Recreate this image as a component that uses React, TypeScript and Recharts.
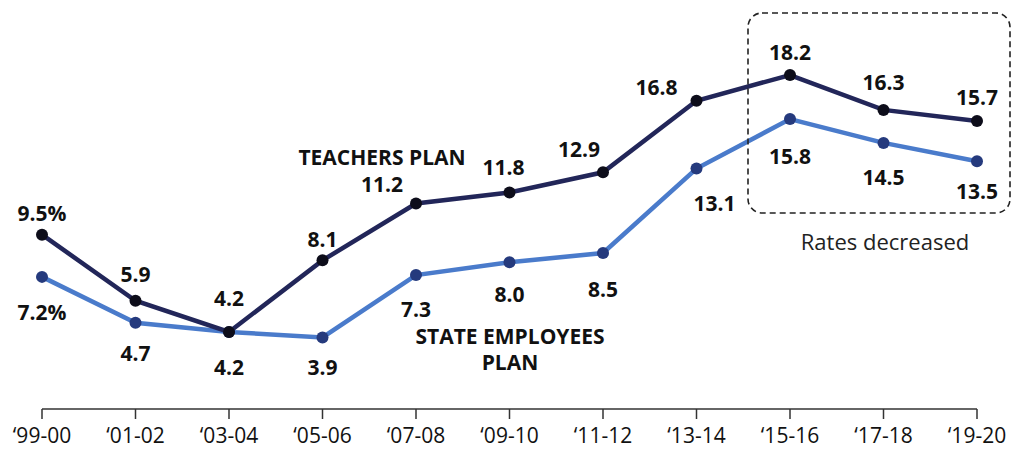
import React from "react";
import { LineChart, Line, XAxis, YAxis, LabelList } from "recharts";

const years = ["‘99-00", "‘01-02", "‘03-04", "‘05-06", "‘07-08", "‘09-10", "‘11-12", "‘13-14", "‘15-16", "‘17-18", "‘19-20"];
const teachers = [9.5, 5.9, 4.2, 8.1, 11.2, 11.8, 12.9, 16.8, 18.2, 16.3, 15.7];
const stateEmployees = [7.2, 4.7, 4.2, 3.9, 7.3, 8.0, 8.5, 13.1, 15.8, 14.5, 13.5];

// label nudges [dx, dy] from each point
const teacherLabelPos = [[0, -22], [0, -27], [0, -34], [0, -21], [-34, -19], [-6, -25], [-24, -23], [-40, -14], [0, -23], [0, -28], [0, -24]];
const stateLabelPos = [[0, 35], [0, 30], [0, 35], [0, 30], [0, 34], [0, 32], [0, 36], [18, 34], [0, 37], [0, 34], [0, 30]];

const data = years.map((y, i) => ({ year: y, teachers: teachers[i], state: stateEmployees[i] }));

const font = "'Open Sans', 'DejaVu Sans', sans-serif";

const makeLabel = (pos: number[][]) => (props: any) => {
  const { x, y, value, index } = props;
  const [dx, dy] = pos[index] || [0, 0];
  const txt = index === 0 ? `${Number(value).toFixed(1)}%` : Number(value).toFixed(1);
  return (
    <text
      x={x + dx}
      y={y + dy}
      textAnchor="middle"
      dominantBaseline="central"
      fontFamily={font}
      fontWeight={700}
      fontSize={21}
      fill="#111"
    >
      {txt}
    </text>
  );
};

export default function App() {
  return (
    <div style={{ position: "absolute", left: 0, top: 0, width: 1013, height: 460, background: "#fff" }}>
      <LineChart width={1013} height={460} data={data} margin={{ top: 42, right: 36, left: 42, bottom: 0 }}>
        <XAxis
          dataKey="year"
          height={51}
          tickSize={10}
          tickMargin={9}
          stroke="#333"
          strokeWidth={1.5}
          tick={{ fill: "#111", fontSize: 21, fontFamily: font }}
          interval={0}
        />
        <YAxis hide domain={[0, 20]} />
        <Line
          dataKey="state"
          stroke="#4a7bcb"
          strokeWidth={4.5}
          dot={{ r: 6, fill: "#253a7d", stroke: "#253a7d", strokeWidth: 0 }}
          isAnimationActive={false}
        >
          <LabelList dataKey="state" content={makeLabel(stateLabelPos)} />
        </Line>
        <Line
          dataKey="teachers"
          stroke="#222659"
          strokeWidth={4.5}
          dot={{ r: 6, fill: "#0d0d1a", stroke: "#0d0d1a", strokeWidth: 0 }}
          isAnimationActive={false}
        >
          <LabelList dataKey="teachers" content={makeLabel(teacherLabelPos)} />
        </Line>
      </LineChart>
      {/* dashed callout box */}
      <svg style={{ position: "absolute", left: 0, top: 0 }} width={1013} height={460}>
        <rect x={748} y={13} width={262} height={200} rx={14} fill="none" stroke="#222" strokeWidth={1.6} strokeDasharray="6 4" />
      </svg>
      <div style={{ position: "absolute", left: 765, top: 226, width: 240, textAlign: "center", fontFamily: font, fontSize: 22, lineHeight: "30px", color: "#222" }}>
        Rates decreased
      </div>
      <div style={{ position: "absolute", left: 262, top: 142, width: 240, textAlign: "center", fontFamily: font, fontWeight: 700, fontSize: 21, lineHeight: "30px", color: "#111" }}>
        TEACHERS PLAN
      </div>
      <div style={{ position: "absolute", left: 380, top: 323, width: 260, textAlign: "center", fontFamily: font, fontWeight: 700, fontSize: 21, lineHeight: "26px", color: "#111" }}>
        STATE EMPLOYEES
        <br />
        PLAN
      </div>
    </div>
  );
}
